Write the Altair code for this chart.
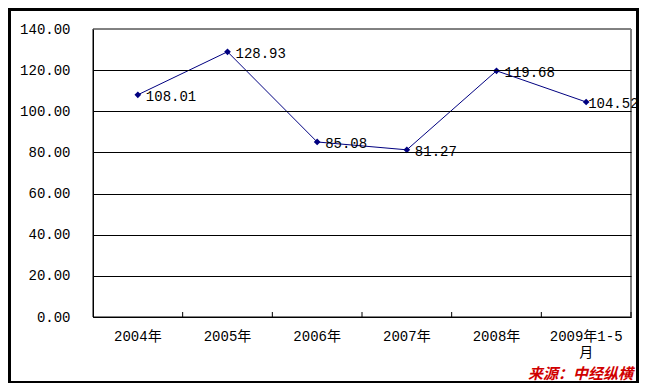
import altair as alt
import pandas as pd

categories = ["2004年", "2005年", "2006年", "2007年", "2008年", "2009年1-5月"]
values = [108.01, 128.93, 85.08, 81.27, 119.68, 104.52]
y_ticks = [0, 20, 40, 60, 80, 100, 120, 140]
source_text = "来源：中经纵横"

df = pd.DataFrame({"cat": categories, "val": values})
df["last"] = df["cat"] == categories[-1]

W, H = 538, 288
FONT = "Liberation Mono, Noto Sans CJK SC"
NAVY = "#000080"

xenc = alt.X("cat:N", sort=None,
             scale=alt.Scale(paddingInner=0, paddingOuter=0),
             axis=alt.Axis(title=None, labelAngle=0, ticks=False, domainColor="black",
                           labelPadding=12, labelFontSize=14, labelFont=FONT,
                           labelColor="black", labelLineHeight=16, zindex=2, grid=False,
                           labelExpr="datum.value == '2009年1-5月' ? ['2009年1-5', '月'] : datum.value"))
yenc = alt.Y("val:Q", scale=alt.Scale(domain=[0, 140], nice=False),
             axis=alt.Axis(title=None, values=y_ticks, format=".2f", ticks=False,
                           domainColor="black", labelPadding=23, labelFontSize=14,
                           labelFont=FONT, labelColor="black", zindex=2, grid=True,
                           gridColor={"condition": {"test": "datum.value === 140", "value": "#808080"},
                                      "value": "black"}))

base = alt.Chart(df)

frame = base.mark_rect(color="white").encode(
    x=alt.value(-82), x2=alt.value(543), y=alt.value(-18), y2=alt.value(352)
)
border = base.mark_rect(filled=False, stroke="#808080", strokeWidth=1).encode(
    x=alt.value(0), x2=alt.value(W), y=alt.value(0), y2=alt.value(H)
)
line = base.mark_line(color=NAVY, strokeWidth=1,
                      point=alt.OverlayMarkDef(shape="diamond", size=45, filled=True, color=NAVY)).encode(
    x=xenc, y=yenc
)
seps = base.mark_rule(color="black").encode(
    x=alt.X("cat:N", sort=None, bandPosition=1), y=alt.value(H - 5), y2=alt.value(H)
)
labels = base.transform_filter("!datum.last").mark_text(
    align="left", baseline="middle", dx=8, dy=2, fontSize=14, font=FONT, color="black"
).encode(x=alt.X("cat:N", sort=None), y="val:Q", text=alt.Text("val:Q", format=".2f"))
labels_last = base.transform_filter("datum.last").mark_text(
    align="left", baseline="middle", dx=2, dy=2, fontSize=14, font=FONT, color="black"
).encode(x=alt.X("cat:N", sort=None), y="val:Q", text=alt.Text("val:Q", format=".2f"))

src = alt.Chart(pd.DataFrame({"t": [source_text]})).mark_text(
    align="right", baseline="alphabetic", fontSize=15, fontWeight="bold", fontStyle="italic",
    font="Noto Sans CJK SC", color="#d00000"
).encode(x=alt.value(540), y=alt.value(350), text="t:N")

chart = alt.layer(frame, border, line, seps, labels, labels_last, src).properties(
    width=W, height=H,
    autosize=alt.AutoSizeParams(type="none"),
    padding={"left": 85, "top": 21, "right": 8, "bottom": 66},
    background="black",
).configure_view(stroke=None)

chart.save("out.html", embed_options={"renderer": "svg", "actions": False})
